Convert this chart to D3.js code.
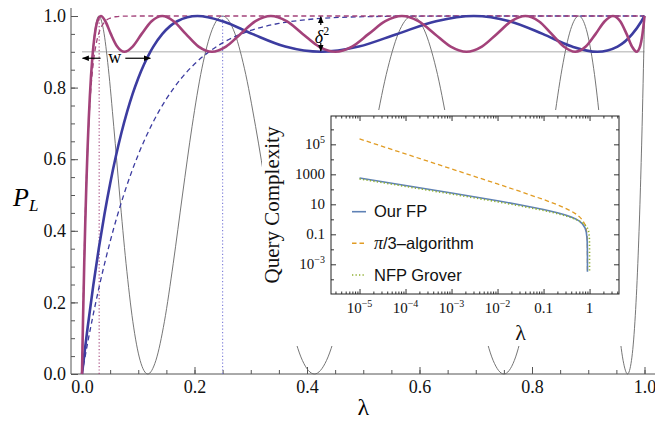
<!DOCTYPE html>
<html><head><meta charset="utf-8">
<script src="https://cdn.jsdelivr.net/npm/d3@7"></script>
<style>body{margin:0;background:#fff} svg{display:block}</style>
</head><body>
<svg id="c" width="655" height="425"></svg>
<script>
// ---------------- main plot data ----------------
const groverLam = [0,0.000476,0.001903,0.004278,0.007596,0.011852,0.017037,0.023142,0.030154,0.038060,0.046846,0.056495,0.066987,0.078304,0.090424,0.103323,0.116978,0.131362,0.146447,0.162205,0.178606,0.195619,0.213212,0.231350,0.25,0.269126,0.288691,0.308658,0.328990,0.349647,0.370590,0.391780,0.413176,0.434737,0.456422,0.478190,0.5,0.521810,0.543578,0.565263,0.586824,0.608220,0.629410,0.650353,0.671010,0.691342,0.711309,0.730874,0.75,0.768650,0.786788,0.804381,0.821394,0.837795,0.853553,0.868638,0.883022,0.896677,0.909576,0.921696,0.933013,0.943505,0.953154,0.961940,0.969846,0.976858,0.982963,0.988148,0.992404,0.995722,0.998097,0.999524,1];
const groverP = [0,0.038,0.146,0.309,0.5,0.691,0.854,0.962,1,0.962,0.854,0.691,0.5,0.309,0.146,0.038,
                 0,0.038,0.146,0.309,0.5,0.691,0.854,0.962,1,0.962,0.854,0.691,0.5,0.309,0.146,0.038,
                 0,0.038,0.146,0.309,0.5,0.691,0.854,0.962,1,0.962,0.854,0.691,0.5,0.309,0.146,0.038,
                 0,0.038,0.146,0.309,0.5,0.691,0.854,0.962,1,0.962,0.854,0.691,0.5,0.309,0.146,0.038,
                 0,0.038,0.146,0.309,0.5,0.691,0.854,0.962,1];

const blueLam = [0,0.005,0.01,0.02,0.03,0.04,0.05,0.06,0.07,0.08,0.09,0.10,0.11,0.12142,0.12683,0.14292,0.16930,0.20532,0.25009,0.30250,0.36127,0.42496,0.49199,0.56071,0.62943,0.69646,0.76015,0.81892,0.87133,0.91610,0.95212,0.97850,0.99459,1];
const blueP = [0,0.0665,0.1297,0.2469,0.3524,0.4471,0.5317,0.6068,0.6732,0.7315,0.7824,0.8263,0.8640,0.9,0.9146,0.95,0.9854,1,0.9854,0.95,0.9146,0.9,0.9146,0.95,0.9854,1,0.9854,0.95,0.9146,0.9,0.9146,0.95,0.9854,1];

const magLam = [0,0.001,0.002,0.004,0.006,0.008,0.010,0.012,0.014,0.016,0.018,
  0.019313,0.020207,0.022889,0.027345,0.033562,0.041515,0.051177,0.062512,0.075479,0.090030,0.106112,0.123667,0.142629,0.162931,0.184498,0.207252,0.231109,0.255983,0.281782,0.308413,0.335778,0.363778,0.392310,0.421269,0.450552,0.480051,0.509656,0.539263,0.568761,0.598044,0.627004,0.655535,0.683535,0.710900,0.737531,0.763330,0.788203,0.812060,0.834815,0.856382,0.876684,0.895646,0.913201,0.929283,0.943834,0.956801,0.968135,0.977797,0.985752,0.991968,0.996424,0.999106,1];
const magP = [0,0.0859,0.1661,0.3104,0.4352,0.5425,0.6343,0.7119,0.7772,0.8313,0.8756,
  0.9,0.9146,0.95,0.9854,1,0.9854,0.95,0.9146,
  0.9,0.9146,0.95,0.9854,1,0.9854,0.95,0.9146,
  0.9,0.9146,0.95,0.9854,1,0.9854,0.95,0.9146,
  0.9,0.9146,0.95,0.9854,1,0.9854,0.95,0.9146,
  0.9,0.9146,0.95,0.9854,1,0.9854,0.95,0.9146,
  0.9,0.9146,0.95,0.9854,1,0.9854,0.95,0.9146,
  0.9,0.9146,0.95,0.9854,1];

const dashBlueLam = [0,0.01,0.02,0.03,0.05,0.075,0.1,0.125,0.15,0.175,0.2,0.25,0.3,0.35,0.4,0.5,0.6,0.7,1];
const dashBlueP = [0,0.0865,0.1663,0.2398,0.3698,0.5042,0.6126,0.6993,0.7684,0.8230,0.8658,0.9249,0.9596,0.9793,0.9899,0.9980,0.9997,1,1];

const dashMagLam = [0,0.002,0.004,0.006,0.008,0.01,0.012,0.015,0.02,0.025,0.03,0.04,0.05,0.06,0.08,0.1,1];
const dashMagP = [0,0.1814,0.3302,0.4522,0.5521,0.6340,0.7010,0.7794,0.8674,0.9205,0.9524,0.9831,0.9941,0.9979,0.9998,1,1];

const thresholdP = 0.9;       // 1 - delta^2
const markLam = [0.0305, 0.25]; // dotted verticals
const wBlue = 0.1214;

const xMajor = [0,0.2,0.4,0.6,0.8,1.0];
const xMinor = d3.range(0,1.0001,0.05);
const yMajor = [0,0.2,0.4,0.6,0.8,1.0];
const yMinor = d3.range(0,1.0001,0.05);

// ---------------- inset data ----------------
const insetLam = [1e-5,1e-4,1e-3,1e-2,0.03,0.1,0.2,0.3,0.4,0.5,0.6,0.7,0.8,0.85,0.88,0.89,0.895,0.899,0.8999];
const fpQ = [574.0,180.8,56.49,17.12,9.393,4.553,2.779,1.956,1.439,1.063,0.7625,0.5029,0.2596,0.1352,0.0561,0.02848,0.01437,0.0029,0.00032];
const piQ = [230256,23024,2300.4,228.1,74.60,20.854,9.319,5.456,3.508,2.322,1.513,0.9125,0.4307,0.2137,0.0860,0.0432,0.02165,0.00434,0.00035];
const nfpLam = [1e-5,1e-4,1e-3,1e-2,0.03,0.1,0.2,0.3,0.4,0.5,0.6,0.7,0.8,0.9,0.95,0.99,0.999,0.9999,0.99999,0.9999998];
const nfpQ = [495.7,156.08,48.66,14.68,8.023,3.882,2.388,1.710,1.294,1.0,0.7728,0.5848,0.4188,0.2576,0.1676,0.0681,0.02055,0.00641,0.00202,0.00028];

const inXTicks = [1e-5,1e-4,1e-3,1e-2,0.1,1];
const inXLabels = [["10","\u22125"],["10","\u22124"],["10","\u22123"],["10","\u22122"],["0.1",""],["1",""]];
const inYTicks = [1e-3,0.1,10,1000,1e5];
const inYLabels = [["10","\u22123"],["0.1",""],["10",""],["1000",""],["10","5"]];
const inYMinor = [1e-4,1e-2,1,100,1e4,1e6];
const legendNames = ["Our FP","/3\u2013algorithm","NFP Grover"];

// ---------------- drawing ----------------
const svg = d3.select('#c');
const serif = "'Liberation Serif','Times New Roman',serif";
const sans = "'Liberation Sans',Arial,sans-serif";
const BLUE = "#3c3ca0", MAG = "#a3427a";

const x = d3.scaleLinear().domain([0,1]).range([82,644.5]);
const y = d3.scaleLinear().domain([0,1]).range([374,16]);

const defs = svg.append('defs');
defs.append('marker').attr('id','ah').attr('viewBox','0 0 10 10').attr('refX',9).attr('refY',5)
  .attr('markerWidth',7).attr('markerHeight',7).attr('markerUnits','userSpaceOnUse').attr('orient','auto-start-reverse')
  .append('path').attr('d','M0,1 L10,5 L0,9 z').attr('fill','#000');

// axes lines
svg.append('line').attr('x1',71).attr('x2',71).attr('y1',y(0)).attr('y2',8).attr('stroke','#555').attr('stroke-width',1);
svg.append('line').attr('x1',71).attr('x2',655).attr('y1',y(0)).attr('y2',y(0)).attr('stroke','#555').attr('stroke-width',1);

function styleAxis(g){ g.select('.domain').remove(); g.selectAll('line').attr('stroke','#555'); g.attr('font-family',serif).attr('font-size',18); g.selectAll('text').attr('fill','#111'); }
svg.append('g').attr('transform',`translate(71,0)`).call(d3.axisLeft(y).tickValues(yMinor).tickSize(-4).tickFormat('')).call(styleAxis);
svg.append('g').attr('transform',`translate(71,0)`).call(d3.axisLeft(y).tickValues(yMajor).tickSize(-7).tickPadding(5).tickFormat(d3.format('.1f'))).call(styleAxis);
svg.append('g').attr('transform',`translate(0,${y(0)})`).call(d3.axisBottom(x).tickValues(xMinor).tickSize(-4).tickFormat('')).call(styleAxis);
svg.append('g').attr('transform',`translate(0,${y(0)})`).call(d3.axisBottom(x).tickValues(xMajor).tickSize(-7).tickPadding(6).tickFormat(d3.format('.1f'))).call(styleAxis);

// threshold line
svg.append('line').attr('x1',x(0)).attr('x2',x(1)).attr('y1',y(thresholdP)).attr('y2',y(thresholdP))
  .attr('stroke','#c8c8c8').attr('stroke-width',1.6);

const line = d3.line().x(d=>x(d[0])).y(d=>y(d[1])).curve(d3.curveMonotoneX);
const zip = (a,b)=>a.map((v,i)=>[v,b[i]]);

// grover gray
svg.append('path').attr('d',line(zip(groverLam,groverP))).attr('fill','none').attr('stroke','#666').attr('stroke-width',0.9);

// dotted verticals
svg.append('line').attr('x1',x(markLam[0])).attr('x2',x(markLam[0])).attr('y1',y(0)).attr('y2',y(1))
  .attr('stroke',MAG).attr('stroke-width',1.1).attr('stroke-dasharray','1.2,2.2');
svg.append('line').attr('x1',x(markLam[1])).attr('x2',x(markLam[1])).attr('y1',y(0)).attr('y2',y(1))
  .attr('stroke','#7a7ad8').attr('stroke-width',1.1).attr('stroke-dasharray','1.2,2.2');

// dashed
svg.append('path').attr('d',line(zip(dashBlueLam,dashBlueP))).attr('fill','none').attr('stroke',BLUE).attr('stroke-width',1.3).attr('stroke-dasharray','5,3.5');
svg.append('path').attr('d',line(zip(dashMagLam,dashMagP))).attr('fill','none').attr('stroke',MAG).attr('stroke-width',1.3).attr('stroke-dasharray','5,3.5');

// thick curves
svg.append('path').attr('d',line(zip(blueLam,blueP))).attr('fill','none').attr('stroke',BLUE).attr('stroke-width',2.6);
svg.append('path').attr('d',line(zip(magLam,magP))).attr('fill','none').attr('stroke',MAG).attr('stroke-width',2.6);

// w annotation
const wy = y(0.882);
svg.append('line').attr('x1',x(0.033)).attr('x2',x(0.001)).attr('y1',wy).attr('y2',wy).attr('stroke','#000').attr('stroke-width',1.2).attr('marker-end','url(#ah)');
svg.append('line').attr('x1',x(0.077)).attr('x2',x(wBlue)).attr('y1',wy).attr('y2',wy).attr('stroke','#000').attr('stroke-width',1.2).attr('marker-end','url(#ah)');
svg.append('text').attr('x',x(0.058)).attr('y',wy+5).attr('text-anchor','middle').attr('font-family',serif).attr('font-size',18).text('w');

// delta^2 annotation
const dx = x(0.4245);
svg.append('line').attr('x1',dx).attr('x2',dx).attr('y1',y(0.975)).attr('y2',y(0.998)).attr('stroke','#000').attr('stroke-width',1.2).attr('marker-end','url(#ah)');
svg.append('line').attr('x1',dx).attr('x2',dx).attr('y1',y(0.925)).attr('y2',y(0.902)).attr('stroke','#000').attr('stroke-width',1.2).attr('marker-end','url(#ah)');
const dt = svg.append('text').attr('x',dx-6).attr('y',y(0.925)).attr('font-family',serif).attr('font-size',18);
dt.append('tspan').attr('font-style','italic').text('\u03b4');
dt.append('tspan').attr('font-size',12).attr('dy',-8).text('2');

// axis labels
const pl = svg.append('text').attr('x',13).attr('y',206).attr('font-family',serif).attr('font-size',26).attr('font-style','italic');
pl.append('tspan').text('P');
pl.append('tspan').attr('font-size',17).attr('dy',5).text('L');
svg.append('text').attr('x',x(0.5)).attr('y',415).attr('text-anchor','middle').attr('font-family',serif).attr('font-size',24).text('\u03bb');

// ---------------- inset ----------------
const ix = d3.scaleLog().domain([Math.pow(10,-5.62), Math.pow(10,0.64)]).range([331,619]);
const iy = d3.scaleLog().domain([Math.pow(10,-4.98), Math.pow(10,6.89)]).range([294,116]);
const [ix0,ix1] = ix.range(), [iy0,iy1] = iy.range();
const ig = svg.append('g');
// white background of the whole inset graphic (covers labels area too)
ig.append('rect').attr('x',262).attr('y',110).attr('width',364).attr('height',236).attr('fill','#fff');
defs.append('clipPath').attr('id','ic').append('rect').attr('x',ix0).attr('y',iy1).attr('width',ix1-ix0).attr('height',iy0-iy1);

const inMinorX = [];
for (let e=-6;e<=0;e++) for (let m=2;m<=9;m++){ const v=m*Math.pow(10,e); if (v>ix.domain()[0] && v<ix.domain()[1]) inMinorX.push(v); }
function styleIn(g){ g.select('.domain').remove(); g.selectAll('line').attr('stroke','#333'); }
ig.append('g').attr('transform',`translate(0,${iy0})`).call(d3.axisBottom(ix).tickValues(inXTicks).tickSize(-5).tickFormat('')).call(styleIn);
ig.append('g').attr('transform',`translate(0,${iy0})`).call(d3.axisBottom(ix).tickValues(inMinorX).tickSize(-2.5).tickFormat('')).call(styleIn);
ig.append('g').attr('transform',`translate(0,${iy1})`).call(d3.axisTop(ix).tickValues(inXTicks).tickSize(-5).tickFormat('')).call(styleIn);
ig.append('g').attr('transform',`translate(0,${iy1})`).call(d3.axisTop(ix).tickValues(inMinorX).tickSize(-2.5).tickFormat('')).call(styleIn);
ig.append('g').attr('transform',`translate(${ix0},0)`).call(d3.axisLeft(iy).tickValues(inYTicks).tickSize(-5).tickFormat('')).call(styleIn);
ig.append('g').attr('transform',`translate(${ix0},0)`).call(d3.axisLeft(iy).tickValues(inYMinor.filter(v=>v<iy.domain()[1])).tickSize(-3).tickFormat('')).call(styleIn);
ig.append('g').attr('transform',`translate(${ix1},0)`).call(d3.axisRight(iy).tickValues(inYTicks).tickSize(-5).tickFormat('')).call(styleIn);
ig.append('g').attr('transform',`translate(${ix1},0)`).call(d3.axisRight(iy).tickValues(inYMinor.filter(v=>v<iy.domain()[1])).tickSize(-3).tickFormat('')).call(styleIn);

// tick labels
inXTicks.forEach((v,i)=>{
  const t = ig.append('text').attr('x',ix(v)).attr('y',iy0+19).attr('text-anchor','middle').attr('font-family',serif).attr('font-size',15).attr('fill','#111');
  t.append('tspan').text(inXLabels[i][0]);
  if (inXLabels[i][1]) t.append('tspan').attr('font-size',10).attr('dy',-6).text(inXLabels[i][1]);
});
inYTicks.forEach((v,i)=>{
  const t = ig.append('text').attr('x',ix0-6).attr('y',iy(v)+5).attr('text-anchor','end').attr('font-family',serif).attr('font-size',15).attr('fill','#111');
  t.append('tspan').text(inYLabels[i][0]);
  if (inYLabels[i][1]) t.append('tspan').attr('font-size',10).attr('dy',-6).text(inYLabels[i][1]);
});
ig.append('text').attr('transform',`translate(279,${(iy0+iy1)/2}) rotate(-90)`).attr('text-anchor','middle').attr('font-family',serif).attr('font-size',21).attr('fill','#111').text('Query Complexity');
ig.append('text').attr('x',(ix(1e-2)+ix(0.1))/2).attr('y',iy0+46).attr('text-anchor','middle').attr('font-family',serif).attr('font-size',22).attr('fill','#111').text('\u03bb');

const iline = d3.line().x(d=>ix(d[0])).y(d=>iy(d[1]));
const cg = ig.append('g').attr('clip-path','url(#ic)');
cg.append('path').attr('d',iline(zip(insetLam,piQ))).attr('fill','none').attr('stroke','#E19C24').attr('stroke-width',1.3).attr('stroke-dasharray','4.5,3');
cg.append('path').attr('d',iline(zip(insetLam,fpQ))).attr('fill','none').attr('stroke','#5E81B5').attr('stroke-width',1.6);
cg.append('path').attr('d',iline(zip(nfpLam,nfpQ))).attr('fill','none').attr('stroke','#8FB032').attr('stroke-width',1.6).attr('stroke-dasharray','1.3,2.2');

ig.append('rect').attr('x',ix0).attr('y',iy1).attr('width',ix1-ix0).attr('height',iy0-iy1).attr('fill','none').attr('stroke','#222').attr('stroke-width',1);

// legend
const legY = [211.7, 243.3, 275];
const legStyle = [["#5E81B5",null],["#E19C24","4.5,3"],["#8FB032","1.3,2.2"]];
legendNames.forEach((n,i)=>{
  ig.append('line').attr('x1',352).attr('x2',366).attr('y1',legY[i]).attr('y2',legY[i]).attr('stroke',legStyle[i][0]).attr('stroke-width',1.6)
    .attr('stroke-dasharray',legStyle[i][1]);
  const t = ig.append('text').attr('x',374).attr('y',legY[i]+5.5).attr('font-family',sans).attr('font-size',16.5).attr('fill','#111');
  if (i===1) t.append('tspan').attr('font-family',serif).attr('font-style','italic').attr('font-size',18).text('\u03c0');
  t.append('tspan').text(n);
});
</script>
</body></html>
